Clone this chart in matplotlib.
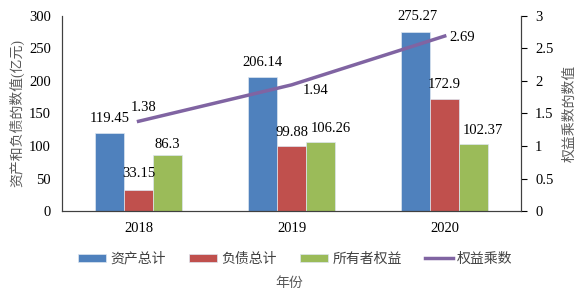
import numpy as np
import matplotlib
matplotlib.use("Agg")
from matplotlib import pyplot as plt

plt.rcParams['font.family'] = ['Liberation Serif', 'Noto Sans CJK SC']
plt.rcParams['font.size'] = 10.5

years = ["2018", "2019", "2020"]
assets = [119.45, 206.14, 275.27]
liabilities = [33.15, 99.88, 172.9]
equity = [86.3, 106.26, 102.37]
multiplier = [1.38, 1.94, 2.69]

series_names = ["资产总计", "负债总计", "所有者权益"]
line_name = "权益乘数"
colors = ["#4F81BD", "#C0504D", "#9BBB59"]
line_color = "#8064A2"

fig = plt.figure(figsize=(5.85, 2.94), dpi=100)
ax = fig.add_axes([0.106, 0.282, 0.785, 0.664])
ax2 = ax.twinx()

x = np.arange(len(years))
w = 0.19
handles = []
for i, (vals, name, c) in enumerate(zip([assets, liabilities, equity], series_names, colors)):
    bars = ax.bar(x + (i - 1) * w, vals, w, color=c, edgecolor="#dde6f0", linewidth=0.5, label=name)
    handles.append(bars)

# bar value labels: offsets of the label centre from the bar top, in pixels
bar_offsets = [
    [(0, 15), (0, 14), (2, 15)],
    [(0, 16), (0, 14), (0, 14)],
    [(0, 10), (10, 13), (9, 14)],
]
for i, vals in enumerate([assets, liabilities, equity]):
    for j, v in enumerate(vals):
        dx, dy = bar_offsets[i][j]
        ax.annotate(f"{v:g}", (x[j] + (i - 1) * w, v), xytext=(dx * 0.72, dy * 0.72),
                    textcoords="offset points", ha="center", va="center")

line, = ax2.plot(x, multiplier, color=line_color, linewidth=2.5, label=line_name)
line_offsets = [(5, 14), (24, -6), (17, -1)]
for j, v in enumerate(multiplier):
    dx, dy = line_offsets[j]
    ax2.annotate(f"{v:g}", (x[j], v), xytext=(dx * 0.72, dy * 0.72), textcoords="offset points",
                 ha="center", va="center")

ax.set_xlim(-0.5, 2.5)
ax.set_ylim(0, 300)
ax.set_yticks(np.arange(0, 301, 50))
ax2.set_ylim(0, 3)
ax2.set_yticks(np.arange(0, 3.01, 0.5))
ax2.set_yticklabels(["0", "0.5", "1", "1.5", "2", "2.5", "3"])
ax.set_xticks(x)
ax.set_xticklabels(years)

for a in (ax, ax2):
    a.spines["top"].set_visible(False)
    for s in a.spines.values():
        s.set_color("#404040")
ax.tick_params(axis="x", length=0, pad=8)
ax.tick_params(axis="y", length=0, pad=8)
ax2.tick_params(axis="y", length=4, direction="out", pad=6)

ax.set_ylabel("资产和负债的数值(亿元)", color="#595959", labelpad=3, fontsize=10)
ax2.set_ylabel("权益乘数的数值", color="#595959", labelpad=7, fontsize=10)

fig.legend(handles + [line], series_names + [line_name], loc="center",
           bbox_to_anchor=(0.505, 0.119), ncol=4, frameon=False,
           handlelength=2.0, handleheight=0.5, columnspacing=1.7,
           handletextpad=0.3, labelcolor="#404040", fontsize=10)
fig.text(0.495, 0.037, "年份", ha="center", va="center", color="#595959", fontsize=10)

fig.savefig("out.png", dpi=100)
